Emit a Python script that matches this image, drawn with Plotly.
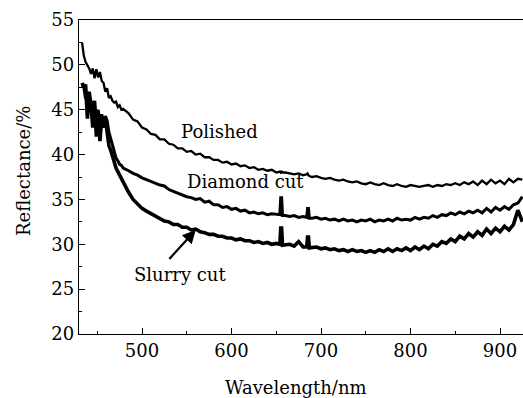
import plotly.graph_objects as go

wavelength = [433, 435, 437, 439, 441, 443, 445, 447, 449, 451, 453, 455, 457, 459, 461, 463, 465, 467, 469, 471, 473, 475, 477, 479,
              485, 490, 495, 500, 505, 510, 515, 520, 525, 530, 535, 540, 545, 550, 555, 560, 565, 570, 575, 580, 585, 590, 595, 600,
              605, 610, 615, 620, 625, 630, 635, 640, 645, 650,
              654, 655, 656, 657,
              660, 665, 670, 675, 680,
              684, 685, 686, 687,
              690, 695, 700, 705, 710, 715, 720, 725, 730, 735, 740, 745, 750, 755, 760, 765, 770, 775, 780, 785, 790, 795, 800,
              805, 810, 815, 820, 825, 830, 835, 840, 845, 850, 855, 860, 865, 870, 875, 880, 885, 890, 895, 900, 905, 910, 915, 920, 925]

polished = [52.5, 51.0, 50.3, 50.0, 49.6, 49.0, 49.6, 48.5, 49.5, 48.6, 49.2, 48.2, 48.0, 47.0, 47.4, 46.3, 46.5, 46.0, 45.8, 45.9, 45.3, 45.5, 45.0, 45.1,
            44.6, 43.9, 43.7, 43.0, 42.8, 42.3, 42.2, 41.7, 41.7, 41.2, 41.1, 40.7, 40.7, 40.3, 40.4, 40.0, 40.1, 39.7, 39.7, 39.4, 39.4, 39.1, 39.2, 38.9,
            39.0, 38.7, 38.8, 38.5, 38.6, 38.3, 38.4, 38.2, 38.3, 38.0,
            38.1, 38.0, 38.1, 38.0,
            38.0, 37.9, 37.8, 37.9, 37.7,
            37.8, 37.9, 37.7, 37.6,
            37.5, 37.6, 37.4, 37.3, 37.4, 37.2, 37.1, 37.2, 37.0, 36.9, 37.0, 36.8, 36.7, 36.9, 36.7, 36.6, 36.8, 36.6, 36.5, 36.7, 36.5, 36.4, 36.6,
            36.5, 36.4, 36.5, 36.6, 36.4, 36.6, 36.5, 36.7, 36.6, 36.8, 36.6, 36.9, 36.7, 37.0, 36.6, 37.1, 36.7, 37.2, 36.8, 37.1, 36.7, 37.3, 36.9, 37.3, 37.2]

diamond = [47.8, 47.5, 46.2, 47.0, 45.0, 46.0, 44.5, 45.5, 43.8, 45.0, 43.5, 44.5, 43.5, 44.3, 43.8, 42.5, 41.8, 41.0, 40.2, 39.6, 39.3, 38.9, 38.8, 38.5,
           38.2, 37.9, 37.7, 37.4, 37.2, 37.0, 36.8, 36.6, 36.5, 36.1, 35.9, 35.7, 35.5, 35.3, 35.2, 35.0, 35.1, 34.7, 34.8, 34.4, 34.4, 34.1, 34.2, 33.9,
           34.0, 33.7, 33.8, 33.5, 33.6, 33.4, 33.5, 33.3, 33.4, 33.3,
           33.3, 35.2, 35.2, 33.2,
           33.2, 33.1, 33.2, 33.0, 33.1,
           33.0, 34.0, 34.0, 32.9,
           32.9, 33.0, 32.8, 32.9, 32.7, 32.8, 32.6, 32.8, 32.6, 32.7, 32.5, 32.7, 32.6, 32.8, 32.5, 32.7, 32.6, 32.8, 32.6, 32.9, 32.7, 32.8, 32.7,
           33.0, 32.8, 33.0, 32.9, 33.2, 33.0, 33.3, 33.2, 33.5, 33.3, 33.6, 33.4, 33.7, 33.5, 33.8, 33.5, 34.0, 33.6, 34.1, 33.8, 34.2, 33.9, 34.4, 34.6, 35.3]

slurry = [48.0, 47.5, 47.8, 44.0, 47.0, 45.5, 43.0, 46.0, 42.0, 44.5, 41.5, 44.0, 43.0, 44.2, 42.5, 41.0, 40.5, 39.8, 39.2, 38.5, 38.1, 37.7, 37.4, 36.9,
          35.8, 35.0, 34.5, 34.0, 33.7, 33.4, 33.1, 32.9, 32.6, 32.5, 32.2, 32.2, 31.9, 31.9, 31.6, 31.7, 31.4, 31.3, 31.1, 31.1, 30.9, 30.9, 30.7, 30.7,
          30.5, 30.6, 30.4, 30.4, 30.2, 30.3, 30.1, 30.2, 30.0, 30.1,
          30.0, 31.8, 31.8, 29.9,
          29.9, 30.0, 29.8, 30.3, 29.7,
          29.7, 30.8, 30.8, 29.6,
          29.6, 29.7, 29.5, 29.6, 29.4, 29.5, 29.3, 29.4, 29.2, 29.4, 29.2, 29.3, 29.1, 29.3, 29.1, 29.4, 29.2, 29.5, 29.2, 29.5, 29.3, 29.6, 29.3,
          29.7, 29.4, 29.8, 29.5, 30.0, 29.8, 30.3, 30.1, 30.6, 30.3, 30.9, 30.6, 31.2, 30.8, 31.4, 31.0, 31.7, 31.2, 31.8, 31.4, 32.0, 31.6, 32.2, 33.8, 32.5]

x_ticks = [500, 600, 700, 800, 900]
y_ticks = [20, 25, 30, 35, 40, 45, 50, 55]

FONT = "DejaVu Serif"
FS = 18

fig = go.Figure()
fig.add_trace(go.Scatter(x=wavelength, y=polished, mode="lines", line=dict(color="black", width=2.3), name="Polished"))
fig.add_trace(go.Scatter(x=wavelength, y=diamond, mode="lines", line=dict(color="black", width=3.0), name="Diamond cut"))
fig.add_trace(go.Scatter(x=wavelength, y=slurry, mode="lines", line=dict(color="black", width=3.6), name="Slurry cut"))

fig.update_layout(
    width=523, height=398,
    margin=dict(l=79, r=0, t=20, b=64),
    paper_bgcolor="white", plot_bgcolor="white",
    showlegend=False,
    font=dict(family=FONT, size=FS, color="black"),
    xaxis=dict(range=[429.6, 925.7], tickvals=x_ticks, ticks="inside", ticklen=6, tickwidth=1.2,
               tickcolor="black", showline=True, linecolor="black", linewidth=1.3, mirror=True,
               showgrid=False, zeroline=False, tickfont=dict(family=FONT, size=FS),
               minor=dict(tickvals=[450, 550, 650, 750, 850], ticks="inside", ticklen=3, tickcolor="black", tickwidth=1.2)),
    yaxis=dict(range=[20, 55], tickvals=y_ticks, ticks="inside", ticklen=6, tickwidth=1.2,
               tickcolor="black", showline=True, linecolor="black", linewidth=1.3,
               showgrid=False, zeroline=False, tickfont=dict(family=FONT, size=FS),
               minor=dict(tickvals=[22.5, 27.5, 32.5, 37.5, 42.5, 47.5, 52.5], ticks="inside", ticklen=3, tickcolor="black", tickwidth=1.2)),
)

fig.add_annotation(x=587, y=42.6, text="Polished", showarrow=False, font=dict(family=FONT, size=FS))
fig.add_annotation(x=616, y=37.0, text="Diamond cut", showarrow=False, font=dict(family=FONT, size=FS))
fig.add_annotation(x=542, y=26.6, text="Slurry cut", showarrow=False, font=dict(family=FONT, size=FS))
fig.add_annotation(x=560, y=31.6, ax=529, ay=28.2, axref="x", ayref="y", text="", showarrow=True,
                   arrowhead=2, arrowsize=1.2, arrowwidth=2.2, arrowcolor="black")

fig.add_annotation(xref="paper", yref="paper", x=(296 - 79) / 444, y=-(387 - 334) / 314, text="Wavelength/nm",
                   showarrow=False, font=dict(family=FONT, size=FS), xanchor="center", yanchor="middle")
fig.add_annotation(xref="paper", yref="paper", x=-(79 - 23) / 444, y=(334 - 171) / 314, text="Reflectance/%",
                   showarrow=False, font=dict(family=FONT, size=FS), textangle=-90, xanchor="center", yanchor="middle")

fig.write_html("out.html")
